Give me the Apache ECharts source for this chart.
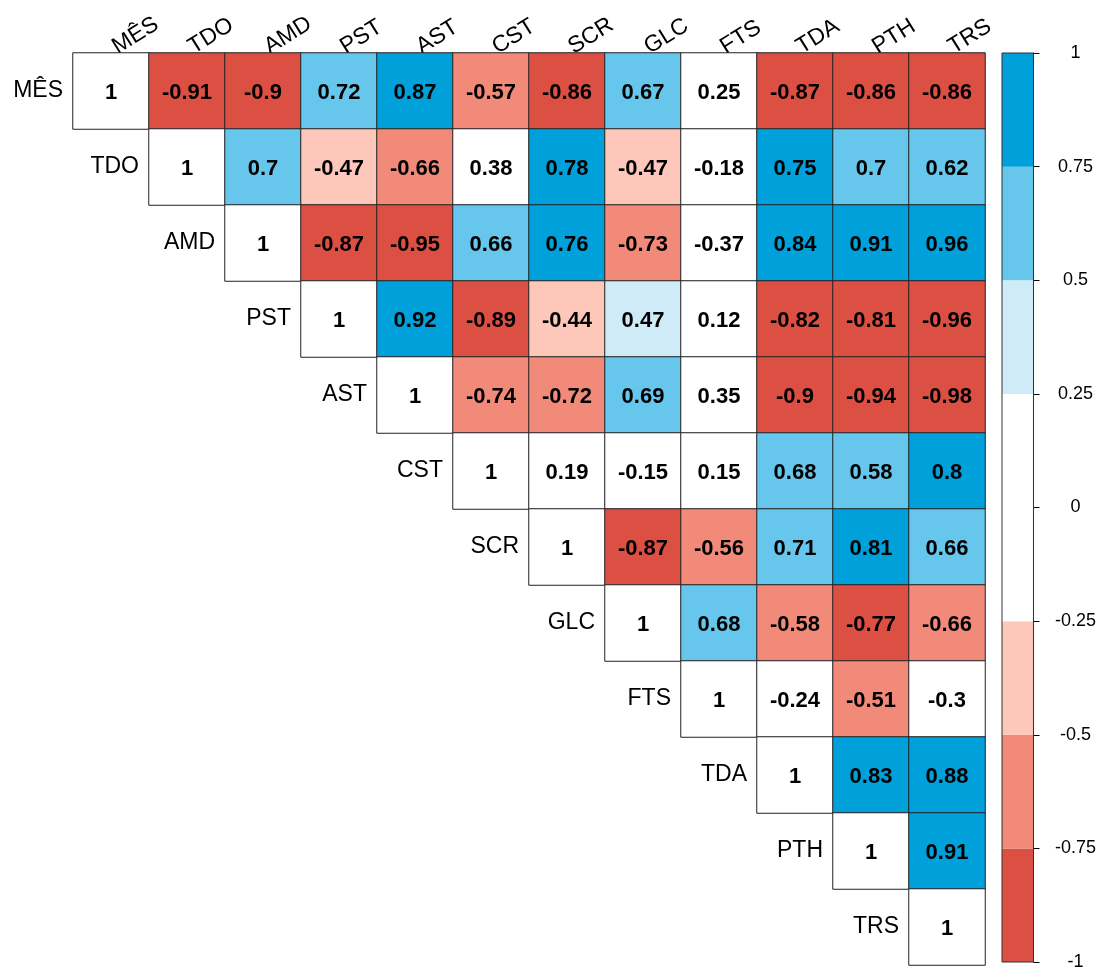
<!DOCTYPE html>
<html><head><meta charset="utf-8">
<script src="https://cdn.jsdelivr.net/npm/echarts@6/dist/echarts.min.js"></script>
<style>html,body{margin:0;padding:0;background:#fff}#c{width:1099px;height:971px}</style>
</head><body><div id="c"></div>
<script>
const vars = ['MÊS','TDO','AMD','PST','AST','CST','SCR','GLC','FTS','TDA','PTH','TRS'];
// upper triangle rows (starting at diagonal)
const rowMES = [1, -0.91, -0.9, 0.72, 0.87, -0.57, -0.86, 0.67, 0.25, -0.87, -0.86, -0.86];
const rowTDO = [1, 0.7, -0.47, -0.66, 0.38, 0.78, -0.47, -0.18, 0.75, 0.7, 0.62];
const rowAMD = [1, -0.87, -0.95, 0.66, 0.76, -0.73, -0.37, 0.84, 0.91, 0.96];
const rowPST = [1, 0.92, -0.89, -0.44, 0.47, 0.12, -0.82, -0.81, -0.96];
const rowAST = [1, -0.74, -0.72, 0.69, 0.35, -0.9, -0.94, -0.98];
const rowCST = [1, 0.19, -0.15, 0.15, 0.68, 0.58, 0.8];
const rowSCR = [1, -0.87, -0.56, 0.71, 0.81, 0.66];
const rowGLC = [1, 0.68, -0.58, -0.77, -0.66];
const rowFTS = [1, -0.24, -0.51, -0.3];
const rowTDA = [1, 0.83, 0.88];
const rowPTH = [1, 0.91];
const rowTRS = [1];
const rows = [rowMES,rowTDO,rowAMD,rowPST,rowAST,rowCST,rowSCR,rowGLC,rowFTS,rowTDA,rowPTH,rowTRS];
const colorbarTicks = [-1,-0.75,-0.5,-0.25,0,0.25,0.5,0.75,1];
const colorbarBins = [[-1,-0.75],[-0.75,-0.5],[-0.5,-0.25],[-0.25,0],[0,0.25],[0.25,0.5],[0.5,0.75],[0.75,1]];
const binColors = ['#dc5044','#f18a79','#fdc8b9','#ffffff','#ffffff','#d0ebf8','#66c6ec','#00a0db'];

const cells = [];
rows.forEach((r,i)=>r.forEach((v,k)=>cells.push([i+k, i, v, k===0?1:0])));
const diag = vars.map((v,i)=>[i,i]);

const chart = echarts.init(document.getElementById('c'));
chart.setOption({
  animation:false,
  textStyle:{fontFamily:'Liberation Sans, Arial, sans-serif'},
  grid:[
    {left:73, top:53, width:912, height:912},
    {left:1002, top:53, width:33, height:912}
  ],
  xAxis:[
    {gridIndex:0, type:'category', data:vars, position:'top',
     axisLine:{show:false}, axisTick:{show:false}, splitLine:{show:false},
     axisLabel:{rotate:-32, fontSize:23, color:'#000', margin:2, interval:0,
       align:'left', verticalAlign:'middle', padding:[0,0,0,4]}},
    {gridIndex:1, type:'category', data:['cb'], show:false}
  ],
  yAxis:[
    {gridIndex:0, type:'category', data:vars, inverse:true, show:false},
    {gridIndex:1, type:'value', min:-1, max:1, interval:0.25, position:'right',
     axisLine:{show:true, lineStyle:{color:'#000', width:1}},
     axisTick:{show:true, length:6, lineStyle:{color:'#000'}},
     splitLine:{show:false},
     axisLabel:{fontSize:18, color:'#000', margin:42, align:'center',
       formatter:v=>colorbarTicks.includes(Math.round(v*100)/100)?String(Math.round(v*100)/100):''}}
  ],
  visualMap:{show:false, type:'piecewise', seriesIndex:0, dimension:2,
    pieces:[
      {gt:0.995, color:'#ffffff'},
      {gte:0.75, lte:0.995, color:'#00a0db'},
      {gte:0.5, lt:0.75, color:'#66c6ec'},
      {gte:0.4, lt:0.5, color:'#d0ebf8'},
      {gt:-0.4, lt:0.4, color:'#ffffff'},
      {gt:-0.5, lte:-0.4, color:'#fdc8b9'},
      {gt:-0.75, lte:-0.5, color:'#f18a79'},
      {lte:-0.75, color:'#dc5044'}
    ]},
  series:[
    {type:'heatmap', xAxisIndex:0, yAxisIndex:0, data:cells,
     itemStyle:{borderColor:'#222', borderWidth:1},
     label:{show:true, fontSize:22, fontWeight:'bold', color:'#000', offset:[0,2],
       formatter:p=>String(p.value[2])},
     emphasis:{disabled:true}},
    {type:'scatter', xAxisIndex:0, yAxisIndex:0, data:diag, symbolSize:0,
     itemStyle:{color:'#000', opacity:1},
     label:{show:true, position:'left', distance:48, fontSize:23, color:'#000', opacity:1,
       formatter:p=>vars[p.value[1]]},
     emphasis:{disabled:true}},
    {type:'custom', xAxisIndex:1, yAxisIndex:1, data:colorbarBins.map((b,i)=>[0,b[0],b[1],i]),
     renderItem:(params, api)=>{
       const lo = api.coord([0, api.value(1)]);
       const hi = api.coord([0, api.value(2)]);
       const s = api.size([1,0]);
       return {type:'rect', shape:{x:lo[0]-s[0]/2, y:hi[1], width:s[0], height:lo[1]-hi[1]},
         style:{fill:binColors[api.value(3)]}};
     }},
    {type:'custom', xAxisIndex:1, yAxisIndex:1, data:[[0,-1,1]],
     renderItem:(params, api)=>{
       const lo = api.coord([0, api.value(1)]);
       const hi = api.coord([0, api.value(2)]);
       const s = api.size([1,0]);
       return {type:'rect', shape:{x:lo[0]-s[0]/2, y:hi[1], width:s[0], height:lo[1]-hi[1]},
         style:{fill:'none', stroke:'#333', lineWidth:1}};
     }}
  ]
});
</script></body></html>
